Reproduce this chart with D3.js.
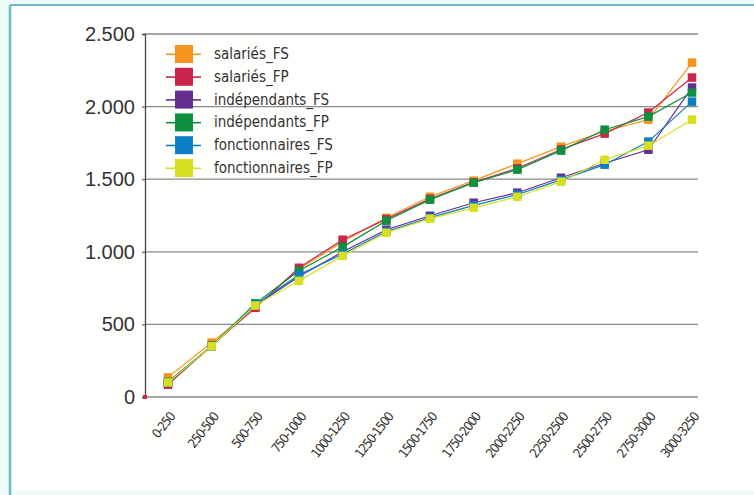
<!DOCTYPE html>
<html>
<head>
<meta charset="utf-8">
<script src="https://cdn.jsdelivr.net/npm/d3@7"></script>
<style>
  body { margin: 0; background: #eefafa; }
  svg { display: block; }
  text { font-family: "Liberation Sans Narrow", "DejaVu Sans Condensed", "Liberation Sans", sans-serif; }
</style>
</head>
<body>
<svg id="chart" width="754" height="495"></svg>
<script>
// income brackets on the x-axis
var categories = ["0-250", "250-500", "500-750", "750-1000", "1000-1250", "1250-1500",
  "1500-1750", "1750-2000", "2000-2250", "2250-2500", "2500-2750", "2750-3000", "3000-3250"];

var seriesNames = ["salariés_FS", "salariés_FP", "indépendants_FS",
  "indépendants_FP", "fonctionnaires_FS", "fonctionnaires_FP"];

var salariesFS = [135, 375, 620, 880, 1070, 1234, 1379, 1490, 1607, 1724, 1830, 1910, 2303];
var salariesFP = [85, 355, 614, 890, 1083, 1225, 1365, 1478, 1575, 1705, 1814, 1959, 2200];
var independantsFS = [95, 350, 630, 830, 1000, 1152, 1248, 1338, 1407, 1510, 1610, 1703, 2131];
var independantsFP = [105, 352, 645, 869, 1034, 1214, 1359, 1476, 1566, 1697, 1841, 1931, 2097];
var fonctionnairesFS = [100, 352, 635, 841, 985, 1140, 1235, 1320, 1395, 1495, 1600, 1759, 2034];
var fonctionnairesFP = [100, 350, 630, 800, 972, 1131, 1228, 1303, 1379, 1483, 1634, 1731, 1910];

var yTicks = [0, 500, 1000, 1500, 2000, 2500];

var colors = ["#f7941d", "#c8264a", "#662d91", "#0c8f3f", "#0b7fc4", "#d6e021"];
var allValues = [salariesFS, salariesFP, independantsFS, independantsFP, fonctionnairesFS, fonctionnairesFP];

var series = seriesNames.map(function(name, i) {
  return { name: name, color: colors[i], values: allValues[i] };
});

var svg = d3.select("#chart");

// frame: white panel with teal border on top and left
svg.append("rect")
    .attr("x", 10).attr("y", 5)
    .attr("width", 760).attr("height", 486)
    .attr("fill", "#fffffd");
svg.append("line")
    .attr("x1", 10).attr("x2", 754).attr("y1", 5).attr("y2", 5)
    .attr("stroke", "#6fbcc4").attr("stroke-width", 2);
svg.append("line")
    .attr("x1", 10).attr("x2", 10).attr("y1", 5).attr("y2", 495)
    .attr("stroke", "#6fbcc4").attr("stroke-width", 2.5);

var xScale = d3.scalePoint()
  .domain(categories)
  .range([168, 692]);

var yScale = d3.scaleLinear()
  .domain([0, 2500])
  .range([397, 34]);

var x0 = 145, x1 = 698;

// horizontal gridlines
svg.append("g")
  .selectAll("line")
  .data(yTicks)
  .join("line")
    .attr("x1", x0).attr("x2", x1)
    .attr("y1", function(d) { return yScale(d); })
    .attr("y2", function(d) { return yScale(d); })
    .attr("stroke", "#8a8a8a")
    .attr("stroke-width", 1.3);

// y-axis with labels on the left
var yAxis = d3.axisLeft(yScale)
  .tickValues(yTicks)
  .tickSize(3)
  .tickPadding(7)
  .tickFormat(function(d) { return d3.format(",")(d).replace(",", "."); });

var gy = svg.append("g")
    .attr("transform", "translate(" + x0 + ",0)")
    .call(yAxis);
gy.select(".domain").attr("stroke", "#444").attr("stroke-width", 1.3);
gy.selectAll(".tick line").attr("stroke", "#444");
gy.selectAll(".tick text")
    .attr("fill", "#333")
    .style("font-family", "'Liberation Sans', 'DejaVu Sans', sans-serif")
    .style("font-size", "20px");

// x-axis labels rotated
var xAxis = d3.axisBottom(xScale).tickSize(0).tickPadding(0);
var gx = svg.append("g")
    .attr("transform", "translate(0," + 397 + ")")
    .call(xAxis);
gx.select(".domain").remove();
gx.selectAll(".tick text")
    .attr("text-anchor", "end")
    .attr("dy", 0)
    .attr("transform", "translate(7,20) rotate(-52)")
    .attr("fill", "#333")
    .style("font-size", "13px")
    .style("letter-spacing", "-1.2px");

// small crimson mark at the origin
svg.append("rect")
    .attr("x", x0 - 2).attr("y", yScale(0) - 2)
    .attr("width", 4).attr("height", 4)
    .attr("fill", colors[1]);

var line = d3.line()
  .x(function(d, i) { return xScale(categories[i]); })
  .y(function(d) { return yScale(d); });

var groups = svg.append("g")
  .selectAll("g")
  .data(series)
  .join("g");

groups.append("path")
    .attr("d", function(d) { return line(d.values); })
    .attr("fill", "none")
    .attr("stroke", function(d) { return d.color; })
    .attr("stroke-width", 1.2);

var ms = 8.5;
groups.selectAll("rect")
  .data(function(d) { return d.values.map(function(v, i) { return { v: v, i: i, color: d.color }; }); })
  .join("rect")
    .attr("x", function(d) { return xScale(categories[d.i]) - ms / 2; })
    .attr("y", function(d) { return yScale(d.v) - ms / 2; })
    .attr("width", ms).attr("height", ms)
    .attr("fill", function(d) { return d.color; });

// legend
var legend = svg.append("g")
    .attr("transform", "translate(166,54)")
  .selectAll("g")
  .data(series)
  .join("g")
    .attr("transform", function(d, i) { return "translate(0," + (i * 22.8) + ")"; });

legend.append("rect")
    .attr("x", 0).attr("y", -0.5)
    .attr("width", 35).attr("height", 1.6)
    .attr("fill", function(d) { return d.color; });
legend.append("rect")
    .attr("x", 9).attr("y", -9)
    .attr("width", 18).attr("height", 18)
    .attr("fill", function(d) { return d.color; });
legend.append("text")
    .attr("x", 48).attr("y", 5)
    .attr("fill", "#333")
    .style("font-size", "15px")
    .text(function(d) { return d.name; });
</script>
</body>
</html>
